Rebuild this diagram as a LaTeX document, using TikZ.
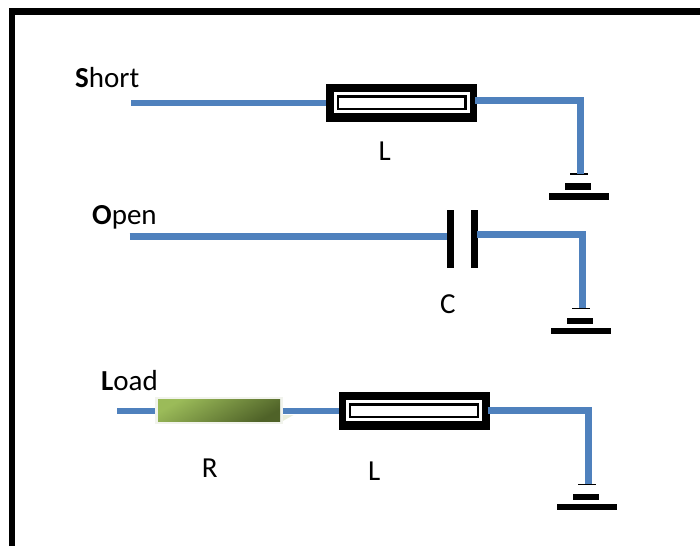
\documentclass[tikz,border=0pt]{standalone}
\usepackage{fontspec}
\setmainfont{Carlito}
\usetikzlibrary{positioning}
\definecolor{wireblue}{HTML}{4F81BD}
\definecolor{halo}{HTML}{F1F3EC}
\definecolor{reslight}{HTML}{9BBB59}
\definecolor{resdark}{HTML}{4F6228}
\definecolor{reswedge}{HTML}{E9EEDC}
\begin{document}
\begin{tikzpicture}[x=1pt,y=-1pt,
    wire/.style={wireblue,line width=6.4pt},
    bar/.style={fill=black,inner sep=0pt,outer sep=0pt,minimum width=#1,minimum height=6.3pt},
    thinbar/.style={fill=black,inner sep=0pt,outer sep=0pt,minimum width=18pt,minimum height=1.5pt},
    tlbox/.style={fill=black,inner sep=0pt,outer sep=0pt,minimum width=151pt,minimum height=38pt},
    tlgap/.style={fill=white,inner sep=0pt,outer sep=0pt,minimum width=136pt,minimum height=21pt},
    tlcore/.style={draw=black,fill=white,line width=2.4pt,inner sep=0pt,outer sep=0pt,minimum width=127.6pt,minimum height=12.6pt},
    plate/.style={fill=black,inner sep=0pt,outer sep=0pt,minimum width=7pt,minimum height=58pt},
    label/.style={inner sep=0pt,anchor=base west,font=\fontsize{29}{29}\selectfont}]
  \useasboundingbox (0,0) rectangle (700,546);
  \draw[line width=6.8pt] (12,546) |- (700,11.25);

  \foreach \name/\x/\y in {S/401.5/102.6,R/414/410.6}{
    \node[tlbox] (tl\name) at (\x,\y) {};
    \node[tlgap] at (tl\name.center) {};
    \node[tlcore] at (tl\name.center) {};
  }
  \foreach \name/\x/\y in {S/579/174,O/581/308.3,R/587/484.3}{
    \node[thinbar] (gnd\name) at (\x,\y) {};
    \node[bar=26pt,below=8.6pt of gnd\name,xshift=-1pt] (mid\name) {};
    \node[bar=60pt,below=3.7pt of mid\name,xshift=1pt] (base\name) {};
  }
  \node[plate] (capl) at (450.5,239.3) {};
  \node[plate] (capr) at (474.5,239.3) {};

  \fill[reswedge] (281,415) -- (293.5,415) -- (281,422) -- cycle;
  \node[fill=halo,inner sep=0pt,outer sep=0pt,minimum width=127.5pt,minimum height=27pt] (resbox) at (219,410.6) {};
  \node[inner sep=0pt,outer sep=0pt,minimum width=122pt,minimum height=21.3pt,
        shading=axis,top color=reslight,bottom color=resdark,shading angle=30] (res) at (resbox.center) {};

  \coordinate (shortin) at (131,103);
  \coordinate (openin) at (129.5,236.5);
  \coordinate (loadin) at (117.3,411);
  \draw[wire] (shortin) -- (shortin -| tlS.west);
  \draw[wire] ([xshift=-2pt,yshift=2.1pt]tlS.east) -| ([xshift=1.5pt]gndS.center);
  \draw[wire] (openin) -- (openin -| capl.west);
  \draw[wire] ([xshift=-1pt,yshift=4.8pt]capr.east) -| ([xshift=1.5pt]gndO.center);
  \draw[wire] (loadin) -- (loadin -| resbox.west);
  \draw[wire] (resbox.east |- loadin) -- (loadin -| tlR.west);
  \draw[wire] ([xshift=-2pt]tlR.east) -| ([xshift=1.5pt]gndR.center);

  \node[label] (short) at (75,87) {\textbf{S}hort};
  \node[label] (open) at (92,224) {\textbf{O}pen};
  \node[label] (load) at (101,390) {\textbf{L}oad};
  \node[label] (lS) at (378.5,160.7) {L};
  \node[label] (c) at (440,313) {C};
  \node[label] (r) at (201.7,477) {R};
  \node[label] (lR) at (368,480.7) {L};
\end{tikzpicture}
\end{document}
